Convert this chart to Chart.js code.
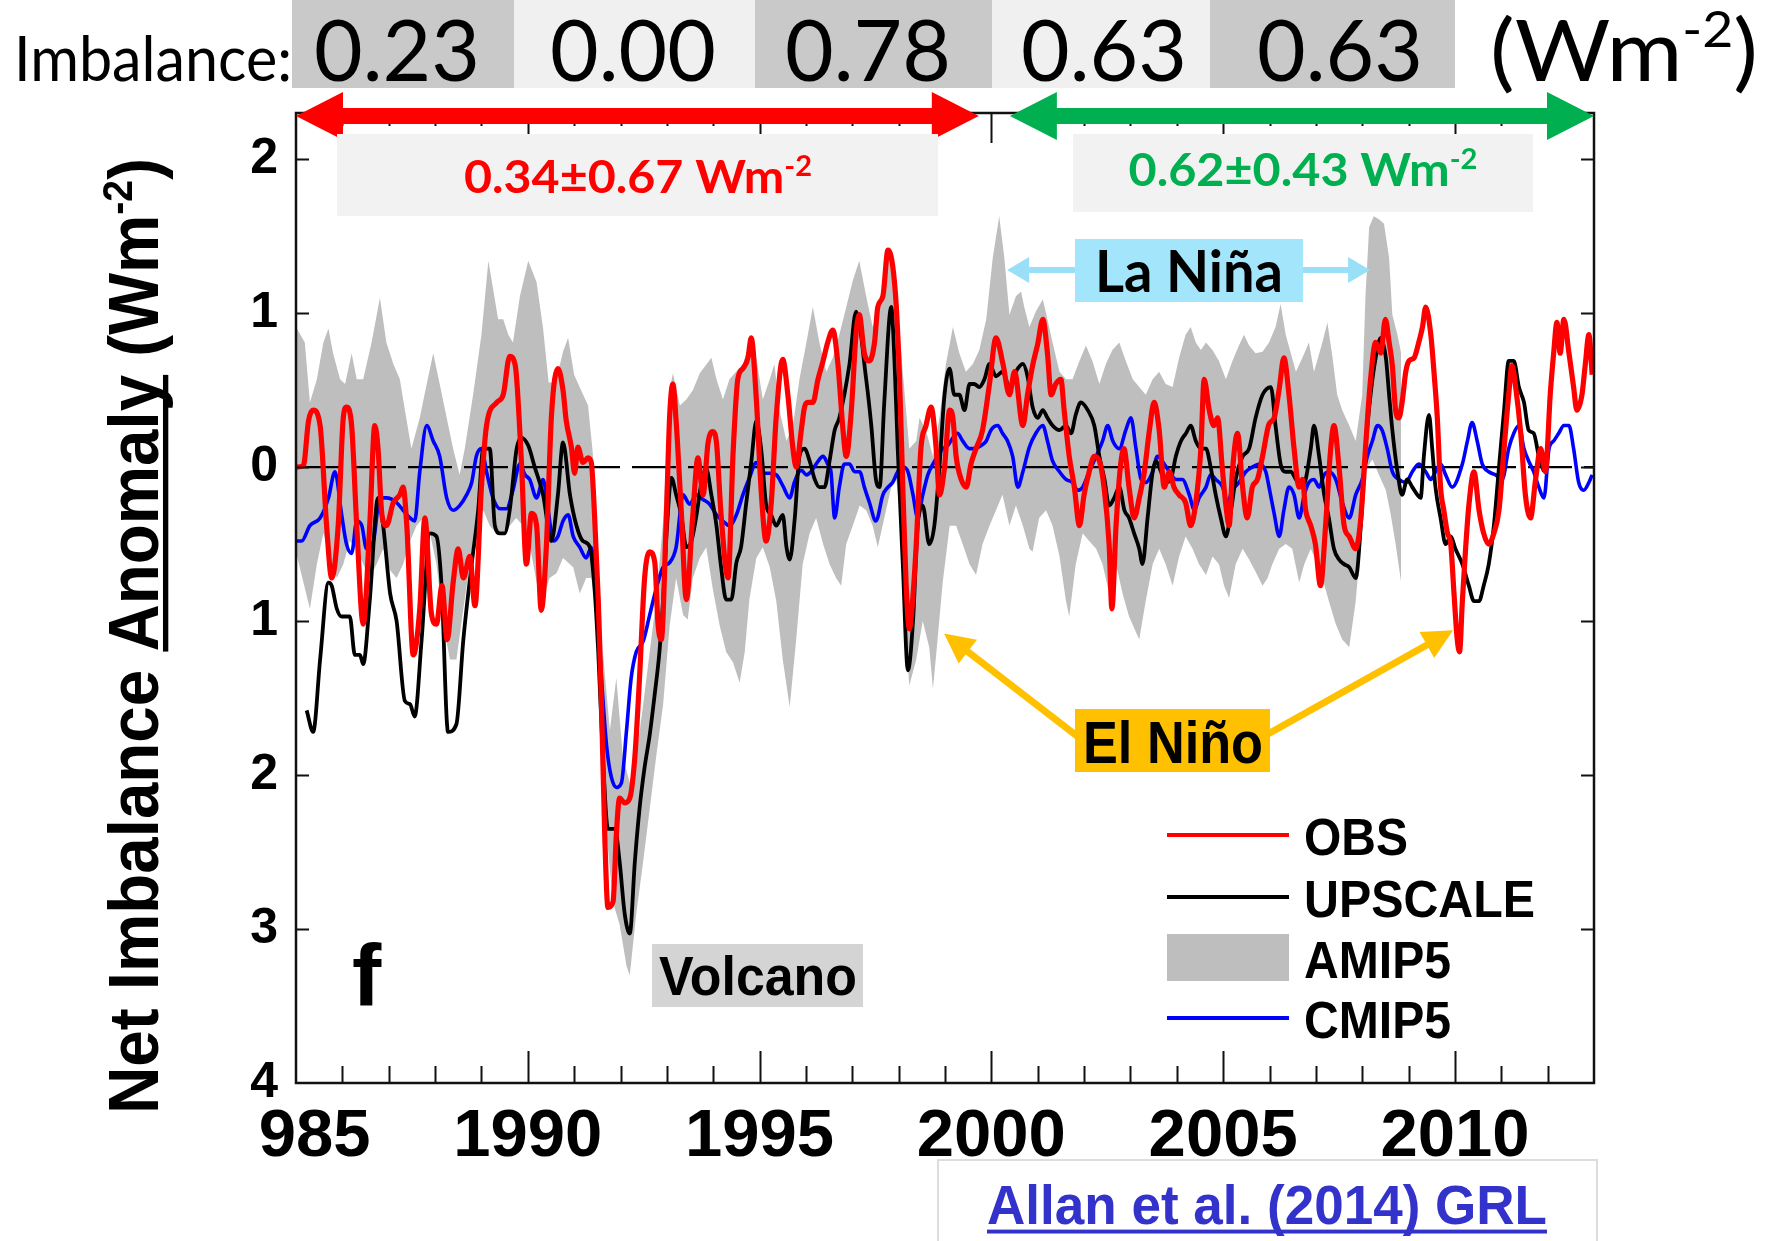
<!DOCTYPE html>
<html>
<head>
<meta charset="utf-8">
<script src="https://cdn.jsdelivr.net/npm/chart.js@4.4.1/dist/chart.umd.min.js"></script>
<style>
  html, body { margin: 0; padding: 0; background: #ffffff; overflow: hidden; }
  #wrap { width: 1773px; height: 1241px; position: relative; }
</style>
</head>
<body>
<div id="wrap"><canvas id="c" width="1773" height="1241"></canvas></div>
<script>
// ---------------- DATA ----------------
const obsYears = [1985.00,1985.16,1985.27,1985.37,1985.52,1985.66,1985.77,1985.91,1986.02,1986.09,1986.20,1986.31,1986.45,1986.59,1986.70,1986.77,1986.85,1986.95,1987.10,1987.24,1987.31,1987.39,1987.53,1987.67,1987.78,1987.92,1988.03,1988.15,1988.26,1988.39,1988.50,1988.61,1988.75,1988.86,1989.00,1989.11,1989.33,1989.47,1989.61,1989.73,1989.86,1989.97,1990.08,1990.19,1990.29,1990.40,1990.51,1990.65,1990.76,1990.83,1990.94,1991.01,1991.08,1991.19,1991.30,1991.37,1991.44,1991.52,1991.59,1991.66,1991.73,1991.84,1991.91,1991.98,1992.09,1992.20,1992.31,1992.41,1992.52,1992.63,1992.74,1992.81,1992.88,1992.99,1993.06,1993.13,1993.20,1993.31,1993.42,1993.56,1993.67,1993.78,1993.89,1993.99,1994.07,1994.17,1994.32,1994.43,1994.53,1994.64,1994.75,1994.82,1994.93,1995.04,1995.14,1995.25,1995.36,1995.50,1995.61,1995.72,1995.79,1995.90,1995.97,1996.04,1996.15,1996.26,1996.37,1996.47,1996.58,1996.69,1996.80,1996.87,1996.98,1997.08,1997.15,1997.26,1997.37,1997.48,1997.55,1997.66,1997.77,1997.87,1997.95,1998.02,1998.09,1998.16,1998.23,1998.30,1998.38,1998.48,1998.59,1998.70,1998.81,1998.88,1998.99,1999.10,1999.17,1999.24,1999.35,1999.46,1999.56,1999.67,1999.81,1999.96,2000.10,2000.25,2000.39,2000.50,2000.68,2000.78,2000.89,2001.00,2001.11,2001.21,2001.29,2001.39,2001.50,2001.57,2001.68,2001.79,2001.90,2002.00,2002.11,2002.22,2002.33,2002.43,2002.54,2002.60,2002.69,2002.79,2002.86,2002.97,2003.08,2003.19,2003.30,2003.41,2003.51,2003.62,2003.73,2003.84,2003.94,2004.05,2004.19,2004.30,2004.41,2004.52,2004.59,2004.70,2004.80,2004.88,2004.98,2005.06,2005.13,2005.20,2005.31,2005.42,2005.52,2005.63,2005.74,2005.85,2005.99,2006.10,2006.21,2006.31,2006.42,2006.53,2006.64,2006.71,2006.78,2006.89,2006.99,2007.10,2007.21,2007.32,2007.39,2007.50,2007.61,2007.72,2007.86,2007.97,2008.07,2008.18,2008.29,2008.40,2008.50,2008.58,2008.65,2008.72,2008.79,2008.86,2008.94,2009.01,2009.12,2009.22,2009.30,2009.37,2009.48,2009.55,2009.62,2009.69,2009.76,2009.84,2009.91,2009.98,2010.05,2010.10,2010.16,2010.23,2010.30,2010.41,2010.52,2010.62,2010.73,2010.84,2010.95,2011.06,2011.16,2011.23,2011.31,2011.42,2011.52,2011.63,2011.74,2011.85,2011.95,2012.06,2012.13,2012.20,2012.27,2012.35,2012.46,2012.56,2012.63,2012.74,2012.81,2012.89,2012.96];
const obsValues = [0.00,0.01,0.30,0.37,0.27,-0.38,-0.72,-0.38,0.32,0.39,0.27,-0.38,-1.02,-0.38,0.27,0.12,-0.30,-0.38,-0.23,-0.18,-0.13,-0.38,-1.22,-0.92,-0.33,-0.95,-1.02,-0.77,-1.12,-0.75,-0.53,-0.72,-0.58,-0.90,-0.13,0.27,0.42,0.47,0.72,0.66,0.05,-0.63,-0.30,-0.38,-0.93,-0.52,0.33,0.64,0.50,0.30,0.13,-0.04,0.13,0.03,0.06,0.03,-0.31,-0.86,-1.54,-2.39,-2.86,-2.82,-2.39,-2.15,-2.18,-2.15,-1.88,-1.37,-0.72,-0.55,-0.62,-1.02,-1.12,-0.31,0.33,0.54,0.30,-0.28,-0.86,-0.31,0.06,-0.18,0.16,0.23,0.16,-0.31,-0.72,0.10,0.57,0.64,0.71,0.84,0.44,-0.18,-0.48,-0.24,0.33,0.70,0.47,0.12,0.00,0.24,0.39,0.42,0.42,0.57,0.69,0.81,0.89,0.67,0.24,0.07,0.37,0.86,0.99,0.74,0.69,0.81,1.04,1.11,1.41,1.31,1.04,0.57,-0.13,-0.75,-1.05,-0.87,-0.50,0.12,0.27,0.39,0.12,-0.18,0.00,0.37,0.32,0.07,-0.08,-0.13,0.02,0.12,0.24,0.54,0.84,0.67,0.47,0.62,0.27,0.47,0.66,0.80,0.96,0.74,0.47,0.54,0.57,0.37,0.07,-0.13,-0.38,-0.18,-0.03,0.07,0.04,-0.13,-0.50,-0.92,-0.38,0.02,0.12,-0.13,-0.33,-0.20,-0.03,0.24,0.42,0.24,-0.13,-0.03,-0.13,-0.18,-0.23,-0.38,-0.23,0.12,0.57,0.37,0.27,0.32,0.00,-0.25,-0.38,-0.03,0.22,-0.13,-0.33,-0.13,-0.08,0.07,0.28,0.32,0.51,0.71,0.47,0.12,-0.13,-0.08,-0.28,-0.38,-0.50,-0.77,-0.38,0.12,0.27,0.00,-0.38,-0.45,-0.53,-0.33,0.12,0.57,0.81,0.74,0.96,0.81,0.66,0.37,0.32,0.42,0.62,0.69,0.71,0.81,0.91,1.04,0.86,0.61,0.32,-0.13,-0.28,-0.43,-0.50,-0.82,-1.12,-1.20,-0.87,-0.53,-0.25,-0.03,-0.28,-0.43,-0.50,-0.43,-0.28,0.12,0.47,0.66,0.52,0.22,-0.18,-0.33,-0.08,0.12,-0.03,0.49,0.74,0.94,0.74,0.96,0.74,0.52,0.37,0.47,0.66,0.86,0.60];

const upscaleYears = [1985.23,1985.37,1985.52,1985.70,1985.77,1985.88,1985.98,1986.16,1986.27,1986.38,1986.45,1986.59,1986.77,1986.88,1987.03,1987.17,1987.35,1987.46,1987.56,1987.71,1987.89,1988.03,1988.14,1988.28,1988.46,1988.61,1988.79,1988.93,1989.04,1989.18,1989.29,1989.40,1989.50,1989.61,1989.76,1989.86,1990.01,1990.15,1990.33,1990.51,1990.65,1990.76,1990.91,1991.05,1991.19,1991.34,1991.44,1991.52,1991.62,1991.73,1991.88,1991.98,1992.09,1992.20,1992.31,1992.41,1992.52,1992.63,1992.74,1992.84,1992.92,1992.99,1993.10,1993.20,1993.31,1993.42,1993.53,1993.64,1993.74,1993.85,1993.96,1994.07,1994.17,1994.28,1994.39,1994.50,1994.60,1994.71,1994.82,1994.93,1995.04,1995.14,1995.25,1995.36,1995.50,1995.58,1995.65,1995.76,1995.86,1995.97,1996.08,1996.19,1996.29,1996.40,1996.51,1996.62,1996.72,1996.94,1997.08,1997.30,1997.41,1997.51,1997.59,1997.69,1997.84,1997.91,1997.98,1998.09,1998.20,1998.31,1998.41,1998.52,1998.66,1998.77,1998.88,1998.99,1999.10,1999.20,1999.31,1999.42,1999.53,1999.63,1999.74,1999.85,1999.96,2000.10,2000.24,2000.39,2000.53,2000.68,2000.78,2000.89,2001.00,2001.11,2001.21,2001.32,2001.47,2001.61,2001.72,2001.82,2001.93,2002.08,2002.22,2002.33,2002.44,2002.54,2002.65,2002.76,2002.87,2002.97,2003.08,2003.19,2003.26,2003.37,2003.48,2003.55,2003.66,2003.76,2003.87,2003.98,2004.09,2004.20,2004.30,2004.41,2004.52,2004.63,2004.73,2004.84,2004.95,2005.06,2005.17,2005.27,2005.42,2005.56,2005.70,2005.85,2006.03,2006.13,2006.24,2006.35,2006.46,2006.57,2006.67,2006.78,2006.89,2006.96,2007.07,2007.18,2007.28,2007.39,2007.50,2007.61,2007.72,2007.86,2007.97,2008.07,2008.18,2008.29,2008.40,2008.51,2008.58,2008.65,2008.76,2008.86,2008.97,2009.08,2009.19,2009.26,2009.33,2009.44,2009.51,2009.58,2009.69,2009.80,2009.91,2010.01,2010.16,2010.30,2010.41,2010.52,2010.62,2010.73,2010.84,2010.95,2011.06,2011.16,2011.27,2011.38,2011.49,2011.59,2011.70,2011.81,2011.92];
const upscaleValues = [-1.58,-1.72,-1.25,-0.75,-0.77,-0.92,-0.97,-0.97,-1.22,-1.22,-1.28,-0.87,-0.20,-0.38,-0.82,-1.00,-1.52,-1.54,-1.62,-1.12,-0.43,-0.45,-0.77,-1.72,-1.67,-1.12,-0.63,-0.28,0.12,0.12,-0.38,-0.43,-0.43,-0.28,0.12,0.19,0.14,0.00,-0.18,-0.48,-0.18,0.16,-0.18,-0.38,-0.48,-0.52,-0.79,-1.20,-1.88,-2.35,-2.35,-2.56,-2.90,-3.03,-2.56,-2.22,-1.95,-1.74,-1.47,-1.20,-0.86,-0.45,-0.07,-0.18,-0.31,-0.52,-0.48,-0.31,-0.11,-0.01,-0.18,-0.38,-0.65,-0.86,-0.86,-0.62,-0.52,-0.24,0.03,0.30,0.10,-0.24,-0.31,-0.38,-0.31,-0.52,-0.60,-0.33,0.07,0.12,0.04,-0.08,-0.13,-0.13,0.04,0.24,0.32,0.67,1.01,0.57,0.27,-0.08,-0.13,0.42,1.04,0.69,0.12,-0.63,-1.32,-1.00,-0.38,-0.25,-0.50,-0.38,0.00,0.47,0.64,0.47,0.47,0.37,0.54,0.54,0.52,0.57,0.67,0.59,0.62,0.52,0.62,0.67,0.59,0.39,0.32,0.37,0.32,0.27,0.24,0.27,0.22,0.34,0.42,0.37,0.27,0.07,-0.08,-0.25,-0.20,-0.13,-0.28,-0.33,-0.43,-0.53,-0.63,-0.33,-0.03,0.04,-0.03,-0.10,-0.08,0.07,0.17,0.22,0.27,0.17,0.12,0.12,0.00,-0.18,-0.33,-0.45,-0.28,-0.08,0.07,0.12,0.32,0.47,0.52,0.27,0.02,-0.03,-0.03,-0.08,-0.13,-0.08,0.12,0.27,0.07,-0.18,-0.33,-0.53,-0.60,-0.63,-0.65,-0.72,-0.38,0.12,0.47,0.71,0.84,0.71,0.47,0.24,-0.03,-0.18,-0.08,-0.13,-0.18,-0.20,0.07,0.34,0.12,-0.13,-0.33,-0.50,-0.45,-0.53,-0.63,-0.77,-0.87,-0.87,-0.77,-0.63,-0.38,0.00,0.37,0.69,0.69,0.52,0.42,0.24,0.22,0.07,-0.03];

const cmipYears = [1985.00,1985.12,1985.30,1985.52,1985.70,1985.84,1985.98,1986.09,1986.20,1986.31,1986.42,1986.52,1986.67,1986.81,1986.95,1987.17,1987.31,1987.46,1987.56,1987.67,1987.82,1987.96,1988.10,1988.25,1988.39,1988.53,1988.68,1988.79,1988.89,1989.00,1989.11,1989.25,1989.40,1989.54,1989.68,1989.83,1989.94,1990.04,1990.19,1990.33,1990.44,1990.55,1990.65,1990.76,1990.87,1990.98,1991.12,1991.26,1991.37,1991.48,1991.59,1991.70,1991.80,1991.91,1992.02,1992.13,1992.23,1992.34,1992.49,1992.63,1992.77,1992.92,1993.06,1993.20,1993.35,1993.49,1993.64,1993.78,1993.92,1994.07,1994.21,1994.35,1994.50,1994.64,1994.78,1994.93,1995.07,1995.22,1995.36,1995.50,1995.65,1995.75,1995.90,1996.01,1996.11,1996.22,1996.37,1996.47,1996.54,1996.62,1996.72,1996.83,1996.94,1997.05,1997.16,1997.26,1997.37,1997.51,1997.66,1997.77,1997.87,1997.98,1998.09,1998.20,1998.31,1998.41,1998.52,1998.63,1998.74,1998.84,1998.95,1999.06,1999.17,1999.27,1999.38,1999.53,1999.63,1999.78,1999.89,1999.99,2000.14,2000.24,2000.35,2000.46,2000.57,2000.68,2000.82,2000.96,2001.11,2001.21,2001.32,2001.47,2001.61,2001.75,2001.86,2001.97,2002.11,2002.26,2002.40,2002.51,2002.62,2002.76,2002.90,2003.01,2003.12,2003.23,2003.33,2003.48,2003.58,2003.73,2003.84,2003.98,2004.12,2004.27,2004.38,2004.48,2004.63,2004.73,2004.84,2004.99,2005.09,2005.20,2005.34,2005.49,2005.63,2005.78,2005.92,2005.99,2006.10,2006.21,2006.31,2006.42,2006.53,2006.64,2006.75,2006.85,2006.96,2007.07,2007.18,2007.28,2007.43,2007.57,2007.72,2007.86,2008.00,2008.11,2008.22,2008.33,2008.43,2008.54,2008.65,2008.79,2008.94,2009.08,2009.22,2009.37,2009.48,2009.58,2009.69,2009.80,2009.94,2010.16,2010.27,2010.37,2010.48,2010.59,2010.73,2010.88,2011.02,2011.16,2011.27,2011.38,2011.49,2011.59,2011.70,2011.81,2011.92,2012.03,2012.13,2012.24,2012.35,2012.46,2012.56,2012.67,2012.78,2012.89,2012.96];
const cmipValues = [-0.48,-0.48,-0.38,-0.33,-0.20,-0.03,-0.30,-0.50,-0.56,-0.35,-0.38,-0.53,-0.48,-0.20,-0.20,-0.23,-0.28,-0.33,-0.35,-0.03,0.27,0.17,0.07,-0.20,-0.28,-0.25,-0.18,-0.10,0.07,0.12,-0.03,-0.20,-0.27,-0.27,-0.15,0.02,-0.05,-0.08,-0.20,-0.08,-0.28,-0.48,-0.45,-0.35,-0.31,-0.45,-0.52,-0.59,-0.52,-0.79,-1.37,-1.81,-2.01,-2.08,-2.05,-1.71,-1.37,-1.20,-1.13,-0.96,-0.79,-0.65,-0.62,-0.52,-0.18,-0.24,-0.18,-0.21,-0.24,-0.31,-0.35,-0.38,-0.31,-0.18,-0.07,0.03,-0.04,-0.04,-0.05,-0.12,-0.20,-0.10,-0.02,-0.05,-0.03,0.02,0.07,0.02,-0.03,-0.33,-0.13,0.02,0.02,-0.03,-0.03,-0.13,-0.23,-0.35,-0.18,-0.13,-0.10,-0.03,0.00,-0.03,-0.18,-0.33,-0.18,-0.05,0.02,0.07,0.12,0.14,0.19,0.22,0.17,0.12,0.12,0.14,0.17,0.24,0.27,0.22,0.17,0.07,-0.13,-0.03,0.13,0.22,0.27,0.17,0.04,-0.03,-0.08,-0.10,-0.15,-0.13,-0.03,0.07,0.17,0.27,0.17,0.12,0.24,0.32,0.12,-0.08,-0.10,-0.03,0.07,0.02,-0.03,-0.08,-0.08,-0.18,-0.28,-0.20,-0.13,-0.05,-0.08,-0.13,-0.23,-0.15,-0.10,-0.03,0.00,0.02,-0.03,-0.13,-0.30,-0.45,-0.28,-0.13,-0.18,-0.33,-0.18,-0.10,-0.08,-0.13,-0.05,-0.03,-0.08,-0.23,-0.33,-0.18,-0.08,0.07,0.17,0.27,0.24,0.12,-0.03,-0.08,-0.10,-0.03,0.02,-0.03,-0.08,-0.03,0.02,-0.05,-0.13,0.02,0.17,0.29,0.17,0.02,-0.03,-0.05,-0.08,0.12,0.22,0.27,0.12,0.04,-0.03,-0.13,-0.20,0.12,0.17,0.22,0.27,0.27,0.12,-0.10,-0.15,-0.10,-0.05];

const amipHighYears = [1985.00,1985.19,1985.30,1985.45,1985.59,1985.70,1985.80,1985.95,1986.06,1986.20,1986.31,1986.45,1986.63,1986.81,1986.95,1987.10,1987.24,1987.35,1987.49,1987.67,1987.82,1987.96,1988.10,1988.25,1988.39,1988.53,1988.64,1988.82,1989.00,1989.15,1989.25,1989.36,1989.47,1989.58,1989.68,1989.83,1990.01,1990.19,1990.33,1990.45,1990.60,1990.76,1990.87,1991.00,1991.15,1991.30,1991.40,1991.50,1991.62,1991.77,1991.91,1992.05,1992.20,1992.34,1992.49,1992.63,1992.77,1992.92,1993.06,1993.13,1993.28,1993.42,1993.56,1993.71,1993.96,1994.07,1994.21,1994.35,1994.64,1994.82,1994.93,1995.07,1995.22,1995.32,1995.43,1995.58,1995.72,1995.86,1996.01,1996.15,1996.29,1996.44,1996.58,1996.72,1996.87,1997.01,1997.15,1997.30,1997.44,1997.59,1997.73,1997.80,1997.91,1997.98,1998.09,1998.23,1998.38,1998.45,1998.59,1998.74,1998.88,1999.02,1999.17,1999.31,1999.45,1999.60,1999.74,1999.89,2000.03,2000.17,2000.28,2000.39,2000.53,2000.64,2000.71,2000.82,2000.96,2001.11,2001.21,2001.32,2001.47,2001.61,2001.75,2001.90,2002.04,2002.18,2002.33,2002.47,2002.61,2002.76,2002.90,2003.05,2003.19,2003.33,2003.48,2003.62,2003.76,2003.91,2004.05,2004.19,2004.30,2004.41,2004.52,2004.63,2004.77,2004.91,2005.06,2005.20,2005.34,2005.45,2005.56,2005.70,2005.85,2005.99,2006.13,2006.24,2006.35,2006.46,2006.57,2006.71,2006.85,2006.96,2007.14,2007.25,2007.36,2007.46,2007.57,2007.72,2007.86,2008.00,2008.07,2008.15,2008.25,2008.36,2008.47,2008.58,2008.65,2008.76,2008.84];
const amipHighValues = [0.91,0.81,0.42,0.57,0.81,0.90,0.74,0.57,0.54,0.74,0.57,0.57,0.81,1.10,0.81,0.67,0.57,0.37,0.12,0.32,0.54,0.74,0.54,0.32,0.12,-0.05,0.12,0.47,0.86,1.34,1.16,0.96,0.96,0.86,0.81,1.11,1.34,1.20,0.90,0.55,0.55,0.75,0.84,0.60,0.50,0.40,0.10,-0.45,-1.20,-1.71,-1.37,-1.88,-2.05,-1.88,-1.54,-1.20,-0.86,-0.35,0.50,0.61,0.40,0.44,0.50,0.61,0.71,0.57,0.44,0.57,0.67,0.84,0.71,0.44,0.57,0.67,0.37,0.17,0.27,0.57,0.81,1.04,0.81,0.62,0.71,0.86,1.04,1.21,1.34,1.11,0.91,1.04,1.36,1.43,1.31,1.04,0.62,0.12,0.17,0.32,0.24,0.07,0.32,0.67,0.91,0.74,0.62,0.67,0.76,0.96,1.36,1.63,1.36,0.99,1.11,1.14,1.04,0.91,1.01,1.09,0.96,0.81,0.62,0.57,0.57,0.69,0.79,0.69,0.54,0.67,0.76,0.81,0.69,0.57,0.52,0.47,0.57,0.62,0.54,0.52,0.71,0.86,0.91,0.81,0.76,0.81,0.76,0.69,0.57,0.69,0.79,0.86,0.79,0.74,0.75,0.81,0.91,1.06,0.86,0.74,0.62,0.71,0.81,0.62,0.81,0.94,0.71,0.47,0.37,0.27,0.17,0.47,1.11,1.56,1.63,1.61,1.58,1.36,0.99,0.86,0.74];

const amipLowYears = [1985.00,1985.16,1985.30,1985.45,1985.59,1985.73,1985.88,1986.02,1986.16,1986.31,1986.45,1986.59,1986.74,1986.88,1987.03,1987.17,1987.31,1987.46,1987.60,1987.74,1987.89,1988.03,1988.18,1988.32,1988.46,1988.61,1988.75,1988.89,1989.04,1989.18,1989.32,1989.47,1989.61,1989.75,1989.90,1990.04,1990.19,1990.33,1990.47,1990.62,1990.76,1990.98,1991.12,1991.26,1991.37,1991.48,1991.59,1991.70,1991.84,1991.98,1992.13,1992.20,1992.34,1992.49,1992.63,1992.77,1992.92,1993.06,1993.20,1993.35,1993.45,1993.56,1993.71,1993.85,1993.99,1994.14,1994.28,1994.43,1994.57,1994.68,1994.78,1994.93,1995.07,1995.22,1995.36,1995.50,1995.65,1995.79,1995.93,1996.08,1996.22,1996.37,1996.51,1996.65,1996.76,1996.87,1997.01,1997.16,1997.30,1997.44,1997.55,1997.69,1997.84,1997.95,1998.05,1998.16,1998.23,1998.38,1998.52,1998.66,1998.74,1998.84,1998.95,1999.10,1999.24,1999.38,1999.53,1999.67,1999.81,1999.96,2000.10,2000.24,2000.39,2000.53,2000.68,2000.82,2000.89,2001.03,2001.18,2001.32,2001.47,2001.61,2001.68,2001.82,2001.97,2002.11,2002.26,2002.40,2002.54,2002.69,2002.83,2002.97,2003.19,2003.33,2003.48,2003.62,2003.76,2003.91,2004.05,2004.19,2004.34,2004.48,2004.63,2004.77,2004.91,2005.02,2005.13,2005.27,2005.42,2005.56,2005.70,2005.85,2005.96,2006.06,2006.21,2006.35,2006.49,2006.64,2006.75,2006.89,2006.96,2007.14,2007.28,2007.43,2007.57,2007.72,2007.86,2008.00,2008.11,2008.22,2008.36,2008.51,2008.61,2008.72,2008.84];
const amipLowValues = [-0.55,-0.75,-0.92,-0.63,-0.43,-0.58,-0.72,-0.63,-0.48,-0.53,-0.63,-0.72,-0.63,-0.53,-0.67,-0.72,-0.63,-0.48,-0.38,-0.33,-0.43,-0.63,-1.02,-1.25,-1.25,-0.92,-0.63,-0.33,-0.28,-0.38,-0.43,-0.43,-0.38,-0.33,-0.38,-0.50,-0.75,-0.86,-0.72,-0.69,-0.59,-0.65,-0.82,-0.72,-0.72,-0.93,-1.54,-2.39,-2.83,-2.97,-3.24,-3.30,-2.90,-2.56,-2.22,-1.88,-1.54,-1.03,-0.72,-0.96,-0.99,-0.72,-0.59,-0.52,-0.79,-1.03,-1.20,-1.27,-1.40,-1.20,-0.86,-0.59,-0.52,-0.65,-0.87,-1.25,-1.56,-1.12,-0.63,-0.43,-0.33,-0.50,-0.63,-0.72,-0.77,-0.50,-0.38,-0.25,-0.28,-0.38,-0.52,-0.33,-0.13,-0.08,-0.38,-1.12,-1.42,-1.25,-1.00,-1.17,-1.44,-1.12,-0.75,-0.38,-0.38,-0.50,-0.63,-0.70,-0.50,-0.38,-0.28,-0.18,-0.38,-0.25,-0.38,-0.53,-0.55,-0.33,-0.28,-0.38,-0.58,-0.87,-0.97,-0.63,-0.43,-0.48,-0.53,-0.63,-0.82,-0.63,-0.82,-0.97,-1.12,-0.87,-0.63,-0.53,-0.63,-0.77,-0.58,-0.45,-0.53,-0.63,-0.70,-0.58,-0.63,-0.77,-0.85,-0.63,-0.53,-0.60,-0.68,-0.77,-0.72,-0.63,-0.53,-0.50,-0.53,-0.75,-0.63,-0.53,-0.58,-0.72,-0.87,-1.02,-1.12,-1.17,-0.87,-0.38,0.00,0.05,-0.05,-0.15,-0.30,-0.50,-0.75];

const seriesNames = ['OBS', 'UPSCALE', 'AMIP5', 'CMIP5'];
const imbalanceLabels = ['0.23', '0.00', '0.78', '0.63', '0.63'];
const periodMeans = ['0.34±0.67', '0.62±0.43'];
const xTickYears = [1985, 1990, 1995, 2000, 2005, 2010];

// ---------------- helpers ----------------
const pts = (xs, ys) => xs.map((x, i) => ({ x: x, y: ys[i] }));
const ARIAL = '"Liberation Sans", Arial, sans-serif';
const CAL = 'Lato, "Open Sans", sans-serif';

// draw text made of parts [{t, sup, u}], optionally squeezed to a target width
function richText(ctx, parts, x, y, o) {
  const size = o.size, wt = o.weight || 'normal', fam = o.family;
  const supSize = size * (o.supScale || 0.6);
  let total = 0;
  const widths = parts.map(p => {
    ctx.font = `${wt} ${p.sup ? supSize : size}px ${fam}`;
    const w = ctx.measureText(p.t).width;
    total += w;
    return w;
  });
  const sx = o.width ? o.width / total : 1;
  ctx.save();
  ctx.translate(x, y);
  if (o.rotate) ctx.rotate(o.rotate);
  ctx.scale(sx, 1);
  let cx = o.align === 'center' ? -total / 2 : (o.align === 'right' ? -total : 0);
  ctx.fillStyle = o.color || '#000';
  ctx.strokeStyle = o.color || '#000';
  ctx.textAlign = 'left';
  ctx.textBaseline = 'alphabetic';
  parts.forEach((p, i) => {
    ctx.font = `${wt} ${p.sup ? supSize : size}px ${fam}`;
    ctx.fillText(p.t, cx, p.sup ? -size * (o.supRise || 0.36) : 0);
    if (p.u) {
      ctx.fillRect(cx, size * (o.uOff || 0.09), widths[i], size * (o.uThick || 0.07));
    }
    cx += widths[i];
  });
  ctx.restore();
}

function arrowHead(ctx, tipX, tipY, ang, len, halfW) {
  ctx.beginPath();
  ctx.moveTo(tipX, tipY);
  ctx.lineTo(tipX - len * Math.cos(ang) + halfW * Math.sin(ang), tipY - len * Math.sin(ang) - halfW * Math.cos(ang));
  ctx.lineTo(tipX - len * Math.cos(ang) - halfW * Math.sin(ang), tipY - len * Math.sin(ang) + halfW * Math.cos(ang));
  ctx.closePath();
  ctx.fill();
}

function arrow(ctx, x1, y1, x2, y2, color, w, len, halfW, both) {
  const ang = Math.atan2(y2 - y1, x2 - x1);
  ctx.save();
  ctx.strokeStyle = color; ctx.fillStyle = color; ctx.lineWidth = w; ctx.lineCap = 'butt';
  const sx = both ? x1 + (len - 2) * Math.cos(ang) : x1, sy = both ? y1 + (len - 2) * Math.sin(ang) : y1;
  ctx.beginPath();
  ctx.moveTo(sx, sy);
  ctx.lineTo(x2 - (len - 2) * Math.cos(ang), y2 - (len - 2) * Math.sin(ang));
  ctx.stroke();
  arrowHead(ctx, x2, y2, ang, len, halfW);
  if (both) arrowHead(ctx, x1, y1, ang + Math.PI, len, halfW);
  ctx.restore();
}

// ---------------- custom drawing plugin ----------------
const decorations = {
  id: 'decorations',
  afterDraw(chart) {
    const ctx = chart.ctx, a = chart.chartArea, xs = chart.scales.x, ys = chart.scales.y;
    ctx.save();

    // frame
    ctx.strokeStyle = '#111';
    ctx.lineWidth = 2.5;
    ctx.strokeRect(a.left, a.top, a.right - a.left, a.bottom - a.top);

    // x ticks (inside, top and bottom)
    ctx.lineWidth = 2;
    for (let yr = 1986; yr < 2013; yr++) {
      const px = Math.round(xs.getPixelForValue(yr)) + 0.5;
      const major = yr % 5 === 0;
      ctx.beginPath();
      ctx.moveTo(px, a.bottom); ctx.lineTo(px, a.bottom - (major ? 32 : 17));
      ctx.moveTo(px, a.top); ctx.lineTo(px, a.top + (major ? 30 : 13));
      ctx.stroke();
    }
    // y ticks (inside, left and right)
    for (let v = -3; v <= 2; v++) {
      const py = Math.round(ys.getPixelForValue(v)) + 0.5;
      ctx.beginPath();
      ctx.moveTo(a.left, py); ctx.lineTo(a.left + 13, py);
      ctx.moveTo(a.right, py); ctx.lineTo(a.right - 13, py);
      ctx.stroke();
    }

    // y-axis title
    richText(ctx, [{ t: 'Net Imbalance ' }, { t: 'Anomaly', u: true }, { t: ' (Wm' }, { t: '-2', sup: true }, { t: ')' }],
      158, 636, { size: 71, weight: 'bold', family: ARIAL, align: 'center', width: 956, rotate: -Math.PI / 2, color: '#000', uOff: 0.07, uThick: 0.075 });

    // ---- top "Imbalance" row ----
    const boxEdges = [292, 514, 755, 992, 1210, 1455];
    const boxFills = ['#c9c9c9', '#f0f0f0', '#c9c9c9', '#f0f0f0', '#c9c9c9'];
    const numCenters = [397, 633, 868, 1104, 1340];
    for (let i = 0; i < 5; i++) {
      ctx.fillStyle = boxFills[i];
      ctx.fillRect(boxEdges[i], 0, boxEdges[i + 1] - boxEdges[i], 88);
    }
    imbalanceLabels.forEach((t, i) => {
      richText(ctx, [{ t }], numCenters[i], 81, { size: 86, family: CAL, align: 'center', width: 166, color: '#000' });
    });
    richText(ctx, [{ t: 'Imbalance:' }], 14, 81, { size: 62, family: CAL, align: 'left', width: 278, color: '#000' });
    richText(ctx, [{ t: '(Wm' }, { t: '-2', sup: true }, { t: ')' }], 1490, 81, { size: 86, family: CAL, align: 'left', width: 268, color: '#000', supScale: 0.58, supRise: 0.4 });

    // ---- period arrows ----
    const arrowY = 116;
    arrow(ctx, xs.getPixelForValue(1985), arrowY, xs.getPixelForValue(1999.73), arrowY, '#ff0000', 16, 47, 24, true);
    arrow(ctx, xs.getPixelForValue(2000.4), arrowY, xs.getPixelForValue(2013), arrowY, '#00b050', 16, 47, 24, true);

    // period mean boxes
    ctx.fillStyle = '#f2f2f2';
    ctx.fillRect(337, 134, 601, 82);
    ctx.fillRect(1073, 134, 460, 78);
    richText(ctx, [{ t: periodMeans[0] + ' Wm' }, { t: '-2', sup: true }], 638, 193, { size: 46, weight: 'bold', family: CAL, align: 'center', width: 348, color: '#ff0000' });
    richText(ctx, [{ t: periodMeans[1] + ' Wm' }, { t: '-2', sup: true }], 1303, 186, { size: 46, weight: 'bold', family: CAL, align: 'center', width: 349, color: '#00b050' });

    // ---- La Niña ----
    const lnY = 270;
    arrow(ctx, 1075, lnY, xs.getPixelForValue(2000.34), lnY, '#99dff7', 6, 22, 13, false);
    arrow(ctx, 1303, lnY, xs.getPixelForValue(2008.17), lnY, '#99dff7', 6, 22, 13, false);
    ctx.fillStyle = '#a3e5fa';
    ctx.fillRect(1075, 239, 228, 63);
    richText(ctx, [{ t: 'La Niña' }], 1189, 292, { size: 58, weight: 'bold', family: CAL, align: 'center', width: 188, color: '#000' });

    // ---- El Niño ----
    arrow(ctx, 1077, 736, xs.getPixelForValue(1998.98), ys.getPixelForValue(-1.08), '#ffc000', 7, 30, 15, false);
    arrow(ctx, 1268, 734, xs.getPixelForValue(2009.96), ys.getPixelForValue(-1.06), '#ffc000', 7, 30, 15, false);
    ctx.fillStyle = '#ffc000';
    ctx.fillRect(1075, 709, 195, 63);
    richText(ctx, [{ t: 'El Niño' }], 1173, 763, { size: 60, weight: 'bold', family: ARIAL, align: 'center', width: 180, color: '#000' });

    // ---- Volcano ----
    ctx.fillStyle = '#d4d4d4';
    ctx.fillRect(652, 944, 211, 63);
    richText(ctx, [{ t: 'Volcano' }], 758, 995, { size: 56, weight: 'bold', family: ARIAL, align: 'center', width: 198, color: '#000' });

    // ---- panel letter ----
    richText(ctx, [{ t: 'f' }], 352, 1005, { size: 88, weight: 'bold', family: ARIAL, align: 'left', color: '#000' });

    // ---- legend ----
    const ds = chart.data.datasets;
    const lx1 = 1167, lx2 = 1289, tx = 1304;
    const legendRows = [
      { name: seriesNames[0], y: 835, ds: ds[0], w: 104 },
      { name: seriesNames[1], y: 897, ds: ds[1], w: 231 },
      { name: seriesNames[2], y: 958, ds: ds[4], w: 147, patch: true },
      { name: seriesNames[3], y: 1018, ds: ds[2], w: 147 }
    ];
    legendRows.forEach(r => {
      if (r.patch) {
        ctx.fillStyle = r.ds.backgroundColor;
        ctx.fillRect(lx1, r.y - 24, lx2 - lx1, 47);
      } else {
        ctx.strokeStyle = r.ds.borderColor;
        ctx.lineWidth = 4;
        ctx.beginPath(); ctx.moveTo(lx1, r.y); ctx.lineTo(lx2, r.y); ctx.stroke();
      }
      richText(ctx, [{ t: r.name }], tx, r.y + 20, { size: 52, weight: 'bold', family: ARIAL, align: 'left', width: r.w, color: '#000' });
    });

    // ---- citation ----
    ctx.strokeStyle = '#dddddd';
    ctx.lineWidth = 2;
    ctx.strokeRect(938, 1160, 659, 90);
    richText(ctx, [{ t: 'Allan et al. (2014) GRL', u: true }], 987, 1224, { size: 56, weight: 'bold', family: ARIAL, align: 'left', width: 560, color: '#3333cc', uOff: 0.1, uThick: 0.07 });

    ctx.restore();
  }
};

// ---------------- chart ----------------
const chart = new Chart(document.getElementById('c').getContext('2d'), {
  type: 'line',
  data: {
    datasets: [
      { label: 'OBS', data: pts(obsYears, obsValues), borderColor: '#ff0000', borderWidth: 5.2, pointRadius: 0, cubicInterpolationMode: 'monotone', fill: false },
      { label: 'UPSCALE', data: pts(upscaleYears, upscaleValues), borderColor: '#000000', borderWidth: 3.8, pointRadius: 0, cubicInterpolationMode: 'monotone', fill: false },
      { label: 'CMIP5', data: pts(cmipYears, cmipValues), borderColor: '#0000ff', borderWidth: 3.6, pointRadius: 0, cubicInterpolationMode: 'monotone', fill: false },
      { label: 'zero', data: [{ x: 1985, y: 0 }, { x: 2013, y: 0 }], borderColor: '#000000', borderWidth: 2.2, borderDash: [44, 12], pointRadius: 0, fill: false },
      { label: 'AMIP5', data: pts(amipHighYears, amipHighValues), borderColor: 'rgba(0,0,0,0)', borderWidth: 0, backgroundColor: '#bebebe', pointRadius: 0, fill: '+1', tension: 0 },
      { label: 'AMIP5 low', data: pts(amipLowYears, amipLowValues), borderColor: 'rgba(0,0,0,0)', borderWidth: 0, backgroundColor: '#bebebe', pointRadius: 0, fill: false, tension: 0 }
    ]
  },
  options: {
    responsive: false,
    animation: false,
    devicePixelRatio: 1,
    events: [],
    layout: { padding: { left: 0, right: 179, top: 113, bottom: 0 } },
    scales: {
      x: {
        type: 'linear', min: 1985, max: 2013,
        afterFit: s => { s.height = 158; },
        grid: { display: false, drawTicks: false },
        border: { display: false },
        ticks: {
          stepSize: 5, includeBounds: false, autoSkip: false, maxRotation: 0, minRotation: 0,
          padding: 14, color: '#000',
          font: { family: ARIAL, size: 67, weight: 'bold' },
          callback: v => (xTickYears.includes(v) ? (v === 1985 ? '\u2007985' : String(v)) : '')
        }
      },
      y: {
        type: 'linear', min: -4, max: 2.3,
        afterFit: s => { s.width = 296; },
        grid: { display: false, drawTicks: false },
        border: { display: false },
        ticks: {
          stepSize: 1, includeBounds: false, padding: 18, color: '#000',
          font: { family: ARIAL, size: 50, weight: 'bold' },
          callback: v => String(Math.abs(v))
        }
      }
    },
    plugins: { legend: { display: false }, tooltip: { enabled: false } }
  },
  plugins: [decorations]
});
</script>
</body>
</html>
